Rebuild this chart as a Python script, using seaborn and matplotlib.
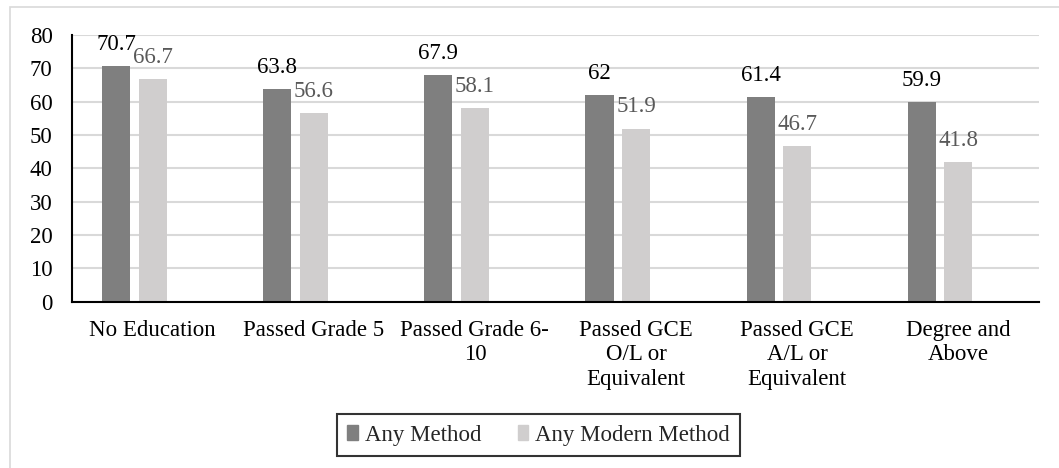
import pandas as pd
import matplotlib.pyplot as plt
import matplotlib.patches as mpatches
import seaborn as sns

# Data
categories = ["No Education", "Passed Grade 5", "Passed Grade 6-\n10",
              "Passed GCE\nO/L or\nEquivalent", "Passed GCE\nA/L or\nEquivalent",
              "Degree and\nAbove"]
any_method = [70.7, 63.8, 67.9, 62, 61.4, 59.9]
any_modern = [66.7, 56.6, 58.1, 51.9, 46.7, 41.8]
series_names = ["Any Method", "Any Modern Method"]

df = pd.DataFrame({
    "category": categories * 2,
    "value": any_method + any_modern,
    "series": [series_names[0]] * 6 + [series_names[1]] * 6,
})

sns.set_style("white")
plt.rcParams["font.family"] = ["Liberation Serif", "DejaVu Serif"]
fs = 16.5

dark = "#7f7f7f"
light = "#d0cece"

fig = plt.figure(figsize=(10.59, 4.68), dpi=100)
ax = fig.add_axes([72 / 1059, (468 - 301.5) / 468, 967 / 1059, 266.5 / 468])

# third (empty) slot keeps Excel's three-series spacing
sns.barplot(data=df, x="category", y="value", hue="series",
            hue_order=series_names + ["_blank"],
            palette=[dark, light, "white"], width=0.68, gap=0.23,
            linewidth=0, saturation=1, legend=False, ax=ax)

ax.set_xlim(-0.5, 5.5)
ax.set_ylim(0, 80)
ax.set_yticks(range(0, 81, 10))
ax.yaxis.grid(True, color="#d9d9d9", linewidth=1.5)
ax.set_axisbelow(True)
ax.set_xlabel("")
ax.set_ylabel("")
for s in ["top", "right"]:
    ax.spines[s].set_visible(False)
ax.spines["left"].set_color("black")
ax.spines["bottom"].set_color("black")
ax.spines["left"].set_linewidth(1.5)
ax.spines["bottom"].set_linewidth(1.5)
ax.tick_params(axis="y", length=0, pad=14, labelsize=fs, colors="black")
ax.tick_params(axis="x", length=0, pad=13, labelsize=fs, colors="black")
for lab in ax.get_xticklabels():
    lab.set_linespacing(1.22)

label_colors = ["black", "#595959"]
for cont, col in zip(ax.containers[:2], label_colors):
    ax.bar_label(cont, fmt="%g", padding=8, fontsize=fs, color=col)

handles = [mpatches.Patch(color=dark, label=series_names[0]),
           mpatches.Patch(color=light, label=series_names[1])]
leg = fig.legend(handles=handles, loc="center", bbox_to_anchor=(538.5 / 1059, 1 - 435 / 468),
                 ncol=2, frameon=True, fontsize=fs, handlelength=0.45, handleheight=0.6,
                 handletextpad=0.3, columnspacing=1.6, fancybox=False,
                 borderpad=0.45)
leg.get_frame().set_edgecolor("black")
leg.get_frame().set_linewidth(1.5)

# outer chart border
fig.patches.append(mpatches.Rectangle((10 / 1059, -0.05), 1.2, 1.05 - 7 / 468,
                                      transform=fig.transFigure, fill=False,
                                      edgecolor="#d9d9d9", linewidth=1.2))

fig.savefig("out.png", dpi=100)
